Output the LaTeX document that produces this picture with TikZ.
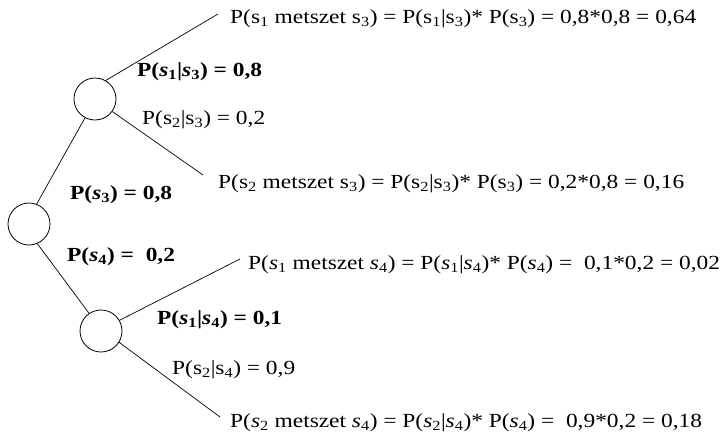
\documentclass[tikz,border=0pt]{standalone}
\usepackage{fontspec}
\setmainfont[FakeStretch=1.17]{Liberation Serif}
\begin{document}
\begin{tikzpicture}[x=1pt,y=-1pt,
  chance/.style={draw,circle,minimum size=42pt,inner sep=0pt,line width=0.8pt},
  branch/.style={line width=0.7pt},
  txt/.style={anchor=west,inner sep=0pt,font=\fontsize{20}{24}\selectfont},
  btxt/.style={txt,font=\fontsize{20}{24}\selectfont\bfseries}]
\useasboundingbox (0,0) rectangle (720,437);
\newcommand{\su}[1]{s\textsubscript{#1}}
\newcommand{\si}[1]{\textit{s}\textsubscript{#1}}
% chance nodes
\node[chance] (root) at (29,224) {};
\node[chance] (up) at (95,99) {};
\node[chance] (low) at (101,331) {};
% free ends
\coordinate (e1) at (218,14);
\coordinate (e2) at (203,175);
\coordinate (e3) at (240,259);
\coordinate (e4) at (220,417);
% branches
\draw[branch] (root.69) -- (up.-118);
\draw[branch] (root.-67) -- (low.124);
\draw[branch] (up.60) -- (e1);
\draw[branch] (up.-36) -- (e2);
\draw[branch] (low.30) -- (e3);
\draw[branch] (low.-32) -- (e4);
% labels
\node[btxt] (l1) at (137,72) {P(\si{1}|\si{3}) = 0,8};
\node[txt] (l2) at (142,120) {P(\su{2}|\su{3}) = 0,2};
\node[btxt] (l3) at (70,195) {P(\si{3}) = 0,8};
\node[btxt] (l4) at (67,257) {P(\si{4}) = \ 0,2};
\node[btxt] (l5) at (157,320) {P(\si{1}|\si{4}) = 0,1};
\node[txt] (l6) at (172,370) {P(\su{2}|\su{4}) = 0,9};
% results
\node[txt] (t1) at (230,19) {P(\su{1} metszet \su{3}) = P(\su{1}|\su{3})* P(\su{3}) = 0,8*0,8 = 0,64};
\node[txt] (t2) at (218,184) {P(\su{2} metszet \su{3}) = P(\su{2}|\su{3})* P(\su{3}) = 0,2*0,8 = 0,16};
\node[txt] (t3) at (248,265) {P(\si{1} metszet \si{4}) = P(\si{1}|\si{4})* P(\si{4}) = \ 0,1*0,2 = 0,02};
\node[txt] (t4) at (230,423) {P(\si{2} metszet \si{4}) = P(\si{2}|\si{4})* P(\si{4}) = \ 0,9*0,2 = 0,18};
\end{tikzpicture}
\end{document}
